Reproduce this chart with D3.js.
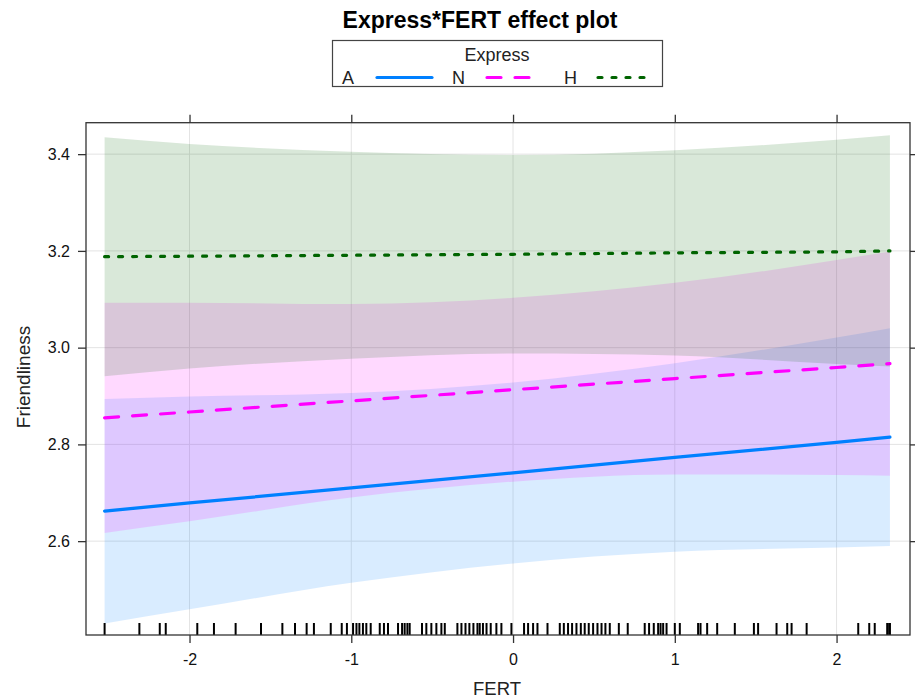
<!DOCTYPE html>
<html>
<head>
<meta charset="utf-8">
<script src="https://cdn.jsdelivr.net/npm/d3@7"></script>
<style>
  body { margin: 0; background: #fff; }
  svg { display: block; font-family: "Liberation Sans", Arial, sans-serif; }
  .tick text { font-size: 16px; fill: #111; font-family: "Liberation Sans", Arial, sans-serif; }
</style>
</head>
<body>
<svg id="chart" width="915" height="699"></svg>
<script>
// ---- data ----
const fertGrid = [-2.525, -2, -1, 0, 1, 2, 2.33];
const levels = ["A", "N", "H"];
const fitA   = [2.662, 2.679, 2.710, 2.741, 2.773, 2.804, 2.815];
const upperA = [2.894, 2.899, 2.906, 2.928, 2.968, 3.021, 3.040];
const lowerA = [2.430, 2.459, 2.514, 2.554, 2.578, 2.587, 2.590];
const fitN   = [2.855, 2.867, 2.890, 2.913, 2.936, 2.959, 2.967];
const upperN = [3.093, 3.093, 3.090, 3.103, 3.134, 3.181, 3.199];
const lowerN = [2.617, 2.641, 2.690, 2.723, 2.738, 2.737, 2.735];
const fitH   = [3.188, 3.189, 3.191, 3.193, 3.196, 3.198, 3.200];
const upperH = [3.435, 3.421, 3.405, 3.398, 3.408, 3.430, 3.439];
const lowerH = [2.941, 2.957, 2.977, 2.988, 2.984, 2.966, 2.961];
const rugFERT = [-2.525, -2.310, -2.184, -2.147, -1.952, -1.849, -1.715, -1.558, -1.426, -1.348,
  -1.276, -1.231, -1.127, -1.059, -1.027, -0.989, -0.968, -0.950, -0.928, -0.907, -0.880, -0.824,
  -0.798, -0.773, -0.711, -0.686, -0.670, -0.653, -0.639, -0.563, -0.536, -0.505, -0.474, -0.443,
  -0.422, -0.344, -0.319, -0.294, -0.270, -0.245, -0.220, -0.206, -0.186, -0.164, -0.138, -0.103,
  -0.072, -0.010, 0.068, 0.093, 0.124, 0.151, 0.213, 0.289, 0.314, 0.340, 0.365, 0.392, 0.419,
  0.443, 0.468, 0.495, 0.522, 0.547, 0.571, 0.598, 0.654, 0.709, 0.814, 0.841, 0.870, 0.897,
  0.912, 0.928, 0.949, 1.000, 1.031, 1.144, 1.159, 1.200, 1.262, 1.371, 1.489, 1.515, 1.629,
  1.695, 1.722, 1.815, 2.134, 2.202, 2.236, 2.313, 2.325, 2.330];
const xTicks = [-2, -1, 0, 1, 2];
const xTickLabels = ["-2", "-1", "0", "1", "2"];
const yTicks = [2.6, 2.8, 3.0, 3.2, 3.4];
const yTickLabels = ["2.6", "2.8", "3.0", "3.2", "3.4"];

const series = [
  { name: "A", fit: fitA, upper: upperA, lower: lowerA, color: "#0080ff", dash: null },
  { name: "N", fit: fitN, upper: upperN, lower: lowerN, color: "#ff00ff", dash: "14,14" },
  { name: "H", fit: fitH, upper: upperH, lower: lowerH, color: "#006400", dash: "4,10" }
];

// ---- layout ----
const svg = d3.select("#chart");
const P = { left: 86, right: 910, top: 122.7, bottom: 635 };
const x = d3.scaleLinear().domain([-2.64, 2.454]).range([P.left, P.right]);
const y = d3.scaleLinear().domain([2.406, 3.465]).range([P.bottom, P.top]);

// grid
const grid = svg.append("g").attr("stroke", "#e4e4e4").attr("stroke-width", 1);
xTicks.forEach(t => grid.append("line").attr("x1", x(t)).attr("x2", x(t)).attr("y1", P.top).attr("y2", P.bottom));
yTicks.forEach(t => grid.append("line").attr("x1", P.left).attr("x2", P.right).attr("y1", y(t)).attr("y2", y(t)));

// bands
series.forEach(s => {
  const pts = fertGrid.map((f, i) => ({ f, lo: s.lower[i], hi: s.upper[i] }));
  const area = d3.area().x(d => x(d.f)).y0(d => y(d.lo)).y1(d => y(d.hi)).curve(d3.curveMonotoneX);
  svg.append("path").datum(pts).attr("d", area).attr("fill", s.color).attr("fill-opacity", 0.15);
});

// lines
series.forEach(s => {
  const pts = fertGrid.map((f, i) => ({ f, v: s.fit[i] }));
  const line = d3.line().x(d => x(d.f)).y(d => y(d.v));
  const p = svg.append("path").datum(pts).attr("d", line).attr("fill", "none")
    .attr("stroke", s.color).attr("stroke-width", 3.2).attr("stroke-linecap", "round");
  if (s.dash) p.attr("stroke-dasharray", s.dash);
});

// rug
svg.append("g").selectAll("line").data(rugFERT).join("line")
  .attr("x1", d => x(d)).attr("x2", d => x(d))
  .attr("y1", 623).attr("y2", P.bottom)
  .attr("stroke", "#000").attr("stroke-width", 2);

// panel border
svg.append("rect").attr("x", P.left).attr("y", P.top)
  .attr("width", P.right - P.left).attr("height", P.bottom - P.top)
  .attr("fill", "none").attr("stroke", "#333").attr("stroke-width", 1.3);

// axes
const axB = svg.append("g").attr("transform", `translate(0,${P.bottom})`)
  .call(d3.axisBottom(x).tickValues(xTicks).tickSize(8).tickPadding(9).tickFormat((d, i) => xTickLabels[i]));
const axT = svg.append("g").attr("transform", `translate(0,${P.top})`)
  .call(d3.axisTop(x).tickValues(xTicks).tickSize(8).tickFormat(""));
const axL = svg.append("g").attr("transform", `translate(${P.left},0)`)
  .call(d3.axisLeft(y).tickValues(yTicks).tickSize(8).tickPadding(8).tickFormat((d, i) => yTickLabels[i]));
const axR = svg.append("g").attr("transform", `translate(${P.right},0)`)
  .call(d3.axisRight(y).tickValues(yTicks).tickSize(6).tickFormat(""));
[axB, axT, axL, axR].forEach(a => {
  a.attr("font-size", null).attr("font-family", null);
  a.select(".domain").remove();
  a.selectAll(".tick line").attr("stroke", "#333").attr("stroke-width", 1.3);
});
axB.selectAll(".tick text").attr("dy", "0.8em");

// axis titles
svg.append("text").attr("x", 497).attr("y", 695).attr("text-anchor", "middle")
  .attr("font-size", 18.5).attr("fill", "#222").text("FERT");
svg.append("text").attr("transform", "translate(30,377) rotate(-90)").attr("text-anchor", "middle")
  .attr("font-size", 19).attr("fill", "#222").text("Friendliness");

// title
svg.append("text").attr("x", 480).attr("y", 28).attr("text-anchor", "middle")
  .attr("font-size", 23).attr("font-weight", "bold").attr("fill", "#000").text("Express*FERT effect plot");

// legend
svg.append("rect").attr("x", 332.5).attr("y", 40.5).attr("width", 330).attr("height", 46)
  .attr("fill", "#fff").attr("stroke", "#444").attr("stroke-width", 1.2);
svg.append("text").attr("x", 497).attr("y", 61).attr("text-anchor", "middle")
  .attr("font-size", 18).attr("fill", "#222").text("Express");
const legX = [{ t: 342, l1: 377, l2: 432 }, { t: 452, l1: 487, l2: 533 }, { t: 564, l1: 598, l2: 647 }];
series.forEach((s, i) => {
  svg.append("text").attr("x", legX[i].t).attr("y", 84).attr("font-size", 18).attr("fill", "#222").text(s.name);
  const l = svg.append("line").attr("x1", legX[i].l1).attr("x2", legX[i].l2).attr("y1", 77.5).attr("y2", 77.5)
    .attr("stroke", s.color).attr("stroke-width", 3.2).attr("stroke-linecap", "round");
  if (s.dash) l.attr("stroke-dasharray", s.dash);
});
</script>
</body>
</html>
